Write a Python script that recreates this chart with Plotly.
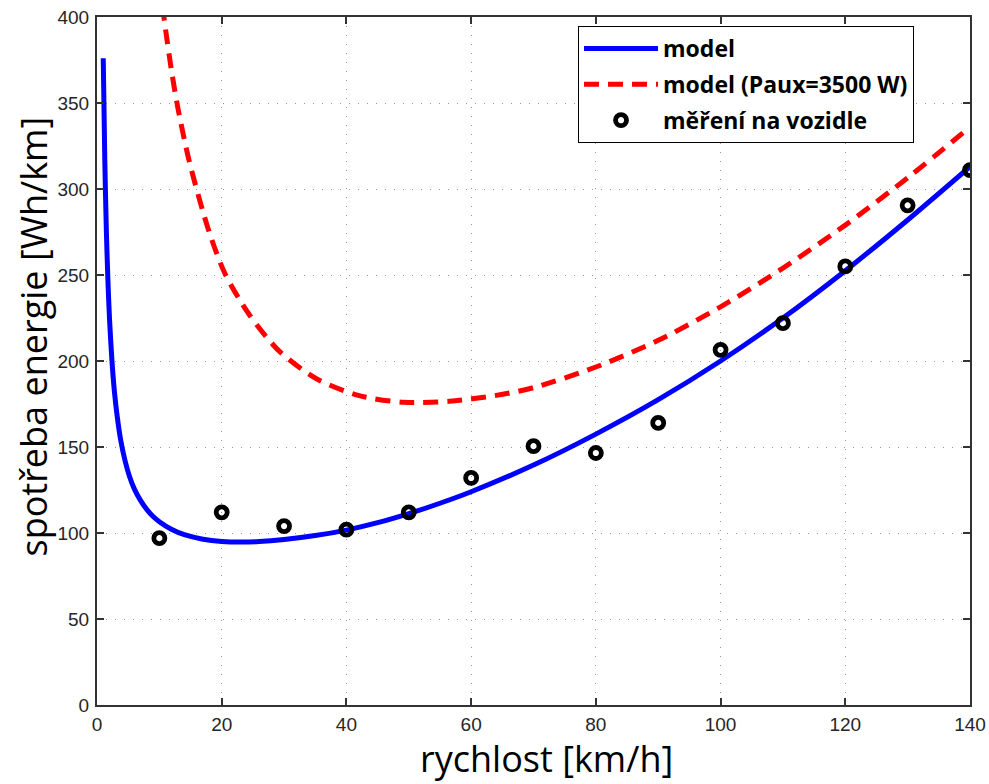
import plotly.graph_objects as go

# Model: energy consumption vs. speed (no auxiliary load)
model_speed = [1.0, 1.25, 1.5, 1.75, 2.0, 2.4, 2.8, 3.2, 3.8, 4.5, 5.2, 6.0, 7.0, 8.0, 9.0,
               10, 12, 14, 17, 20, 23, 26, 30, 35, 40, 45, 50, 55, 60, 70, 80, 90,
               100, 110, 120, 130, 140]
model_energy = [376, 317, 276, 247, 225, 200, 182, 169, 154, 142, 133, 125.5, 118.8, 113.6, 109.6,
                106.6, 102, 99, 96.4, 95.1, 94.7, 95, 96.2, 98.5, 101.7, 106, 111.3, 117.3, 124, 139.5,
                157.5, 177.5, 200, 225, 252.5, 282, 313]

# Model with auxiliary power Paux = 3500 W
aux_speed = [10.5, 11, 12, 13, 14.77, 17.9, 20.5, 24.3, 29.1, 35.2, 41.9, 49.1, 56.5, 64,
             70, 80, 90, 100, 110, 120, 130, 140]
aux_energy = [406.6, 392.6, 367.6, 346.6, 316.5, 276, 251, 227.6, 206.2, 189.7, 180, 176, 176.6, 180,
              184.5, 196.5, 212, 231.5, 254, 279, 306.5, 336]

# Measurements on the vehicle
meas_speed = [10, 20, 30, 40, 50, 60, 70, 80, 90, 100, 110, 120, 130, 140]
meas_energy = [97, 112, 104, 102, 112, 132, 150.5, 146.5, 164, 206.5, 222, 255, 290.5, 311]

x_ticks = [0, 20, 40, 60, 80, 100, 120, 140]
y_ticks = [0, 50, 100, 150, 200, 250, 300, 350, 400]

fig = go.Figure()
fig.add_trace(go.Scatter(
    x=model_speed, y=model_energy, mode="lines", name="model", legendgroup="a",
    line=dict(color="#0000ff", width=5, shape="spline", smoothing=0.8),
))
fig.add_trace(go.Scatter(
    x=aux_speed, y=aux_energy, mode="lines", name="model (Paux=3500 W)", legendgroup="b",
    line=dict(color="#ff0000", width=5, dash="15px,9px", shape="spline", smoothing=0.8),
))
fig.add_trace(go.Scatter(
    x=meas_speed, y=meas_energy, mode="markers", name="měření na vozidle", legendgroup="c",
    marker=dict(symbol="circle-open", color="black", size=11, line=dict(width=4.8, color="black")),
))

axis_common = dict(
    showline=True, linecolor="#333333", linewidth=2, mirror="ticks",
    ticks="inside", ticklen=7, tickwidth=1.5, tickcolor="#333333",
    showgrid=True, gridcolor="#9a9a9a", gridwidth=1, griddash="1px,8px",
    zeroline=False,
    tickfont=dict(family="Liberation Sans", size=19, color="#262626"),
)

fig.update_xaxes(range=[0, 140], tickvals=x_ticks, ticktext=[str(v) for v in x_ticks],
                 ticklabelstandoff=1, **axis_common)
fig.update_yaxes(range=[0, 400], tickvals=y_ticks, ticktext=[str(v) for v in y_ticks],
                 ticklabelstandoff=2, **axis_common)

title_font = dict(family="Open Sans", size=36, color="black")
fig.add_annotation(text="rychlost [km/h]", xref="paper", yref="paper",
                   x=0.5149, y=-0.1148, xanchor="center", yanchor="bottom",
                   showarrow=False, font=title_font, borderpad=0)
fig.add_annotation(text="spotřeba energie [Wh/km]", xref="paper", yref="paper",
                   x=-0.0733, y=0.5356, xanchor="center", yanchor="middle", textangle=-90,
                   showarrow=False, font=title_font)

fig.update_layout(
    width=989, height=784,
    margin=dict(l=97, r=19, t=17, b=79, autoexpand=False),
    paper_bgcolor="white", plot_bgcolor="white",
    showlegend=True,
    legend=dict(
        x=0.551, y=0.987, xanchor="left", yanchor="top",
        bgcolor="white", bordercolor="black", borderwidth=1,
        font=dict(family="Open Sans", size=23, color="black", weight="bold"),
        tracegroupgap=3, itemwidth=74, entrywidth=292, entrywidthmode="pixels",
    ),
)

fig.write_html("out.html")
